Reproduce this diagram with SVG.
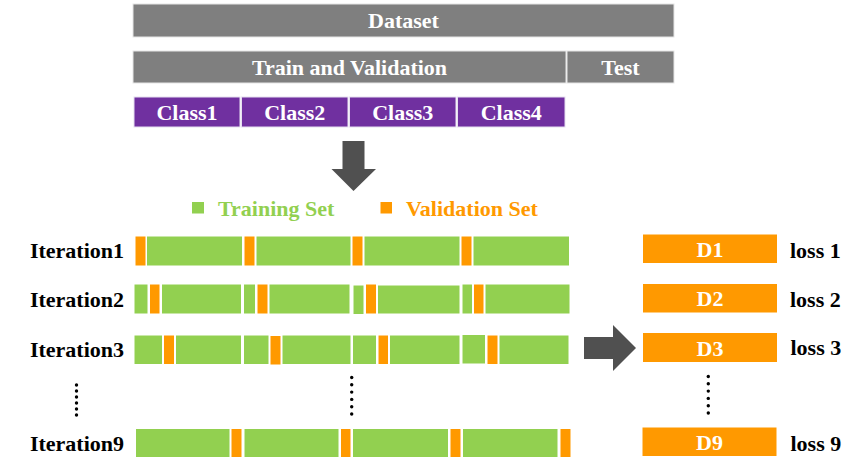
<svg xmlns="http://www.w3.org/2000/svg" width="856" height="475" viewBox="0 0 856 475">
<style>
text{font-family:"Liberation Serif","Times New Roman",serif;font-weight:bold;font-size:22px}
.w{fill:#fff;text-anchor:middle}
.k{fill:#000}
.gray{fill:#7f7f7f;stroke:#e6e6e6;stroke-width:1}
.pur{fill:#7030a0;stroke:#e6dff0;stroke-width:1}
.g{fill:#92d050;stroke:#fff;stroke-width:1}
.o{fill:#ff9900;stroke:#fff;stroke-width:1}
.d{fill:#ff9900}
.arr{fill:#505050}
.dot{fill:#000}
</style>
<rect width="856" height="475" fill="#fff"/>
<g id="dataset"><rect class="gray" x="133" y="4" width="541" height="33"/><text class="w" x="403.5" y="28">Dataset</text></g>
<g id="trainval"><rect class="gray" x="133" y="51" width="433" height="32"/><text class="w" x="349.5" y="75">Train and Validation</text></g>
<g id="test"><rect class="gray" x="567" y="51" width="107" height="32"/><text class="w" x="620.5" y="75">Test</text></g>
<g id="class1"><rect class="pur" x="134" y="97" width="106" height="30"/><text class="w" x="187" y="119.5">Class1</text></g>
<g id="class2"><rect class="pur" x="241.5" y="97" width="106.5" height="30"/><text class="w" x="294.7" y="119.5">Class2</text></g>
<g id="class3"><rect class="pur" x="349.5" y="97" width="106.5" height="30"/><text class="w" x="402.7" y="119.5">Class3</text></g>
<g id="class4"><rect class="pur" x="457.5" y="97" width="107.5" height="30"/><text class="w" x="511.2" y="119.5">Class4</text></g>
<g id="legend">
<rect fill="#92d050" x="192" y="202" width="12" height="11.5"/><text fill="#92d050" x="218" y="216">Training Set</text>
<rect fill="#ff9900" x="380.5" y="202" width="11.5" height="11.5"/><text fill="#ff9900" x="406" y="216">Validation Set</text>
</g>
<g id="iteration1"><text class="k" x="124" y="257.5" text-anchor="end">Iteration1</text>
<rect class="o" x="135" y="236" width="11" height="30"/><rect class="g" x="146.5" y="236" width="96" height="30"/>
<rect class="o" x="244" y="236" width="11" height="30"/><rect class="g" x="256" y="236" width="95" height="30"/>
<rect class="o" x="352" y="236" width="11" height="30"/><rect class="g" x="364" y="236" width="96" height="30"/>
<rect class="o" x="461" y="236" width="11" height="30"/><rect class="g" x="473" y="236" width="96.5" height="30"/>
</g>
<g id="iteration2"><text class="k" x="124" y="306.5" text-anchor="end">Iteration2</text>
<rect class="g" x="134" y="284" width="14" height="30"/><rect class="o" x="149.5" y="284" width="10.5" height="30"/><rect class="g" x="161.5" y="284" width="80" height="30"/>
<rect class="g" x="243.5" y="284" width="12" height="30"/><rect class="o" x="257" y="284" width="11" height="30"/><rect class="g" x="269" y="284" width="81" height="30"/>
<rect class="g" x="353" y="285" width="11" height="29.5"/><rect class="o" x="365.5" y="284" width="11" height="30"/><rect class="g" x="377.5" y="285" width="82.5" height="29"/>
<rect class="g" x="462" y="284" width="10.5" height="30"/><rect class="o" x="473.5" y="284" width="10.5" height="30"/><rect class="g" x="485" y="284" width="85" height="30"/>
</g>
<g id="iteration3"><text class="k" x="124" y="356.5" text-anchor="end">Iteration3</text>
<rect class="g" x="134" y="335" width="28.5" height="29.5"/><rect class="o" x="163.5" y="335" width="11" height="29.5"/><rect class="g" x="175.5" y="335" width="66" height="29.5"/>
<rect class="g" x="243.5" y="335" width="25.5" height="29.5"/><rect class="o" x="270" y="335.5" width="11" height="29.5"/><rect class="g" x="282" y="335" width="69" height="29.5"/>
<rect class="g" x="352.5" y="335" width="24" height="29.5"/><rect class="o" x="378" y="335" width="10.5" height="29.5"/><rect class="g" x="389.5" y="335" width="70.5" height="29.5"/>
<rect class="g" x="462" y="334.5" width="23.5" height="29.5"/><rect class="o" x="487" y="335" width="11" height="29.5"/><rect class="g" x="499" y="335" width="70" height="29.5"/>
</g>
<g id="iteration9"><text class="k" x="124" y="450.5" text-anchor="end">Iteration9</text>
<rect class="g" x="135.5" y="428.5" width="94.5" height="29"/><rect class="o" x="231" y="428.5" width="11" height="29"/>
<rect class="g" x="244" y="428.5" width="95" height="29"/><rect class="o" x="340.5" y="428.5" width="10.5" height="29"/>
<rect class="g" x="352.5" y="428.5" width="96" height="29"/><rect class="o" x="450" y="428.5" width="11" height="29"/>
<rect class="g" x="462.5" y="428.5" width="95.5" height="29"/><rect class="o" x="560" y="428.5" width="11" height="29"/>
</g>
<g id="ellipsis-left"><circle class="dot" cx="76.5" cy="385" r="1.7"/><circle class="dot" cx="76.5" cy="391" r="1.7"/><circle class="dot" cx="76.5" cy="397" r="1.7"/><circle class="dot" cx="76.5" cy="403" r="1.7"/><circle class="dot" cx="76.5" cy="409" r="1.7"/><circle class="dot" cx="76.5" cy="415" r="1.7"/></g>
<g id="ellipsis-mid"><circle class="dot" cx="351.7" cy="377.5" r="1.7"/><circle class="dot" cx="351.7" cy="384.8" r="1.7"/><circle class="dot" cx="351.7" cy="392.1" r="1.7"/><circle class="dot" cx="351.7" cy="399.4" r="1.7"/><circle class="dot" cx="351.7" cy="406.7" r="1.7"/><circle class="dot" cx="351.7" cy="414" r="1.7"/></g>
<g id="ellipsis-right"><circle class="dot" cx="708.3" cy="376.5" r="1.7"/><circle class="dot" cx="708.3" cy="383.8" r="1.7"/><circle class="dot" cx="708.3" cy="391.1" r="1.7"/><circle class="dot" cx="708.3" cy="398.4" r="1.7"/><circle class="dot" cx="708.3" cy="405.7" r="1.7"/><circle class="dot" cx="708.3" cy="413" r="1.7"/></g>
<g id="d1"><rect class="d" x="643" y="234.5" width="134" height="28.5"/><text class="w" x="710" y="256.5">D1</text></g>
<g id="d2"><rect class="d" x="643" y="284" width="134" height="28.5"/><text class="w" x="710" y="306">D2</text></g>
<g id="d3"><rect class="d" x="643" y="333" width="134" height="29"/><text class="w" x="710" y="355.5">D3</text></g>
<g id="d9"><rect class="d" x="642.5" y="427.5" width="134" height="28.5"/><text class="w" x="709.5" y="449.5">D9</text></g>
<g id="losses">
<text class="k" x="790" y="257.5">loss 1</text>
<text class="k" x="790" y="306.5">loss 2</text>
<text class="k" x="790.5" y="355">loss 3</text>
<text class="k" x="790.5" y="451">loss 9</text>
</g>
<g id="connectors">
<polygon class="arr" points="342.5,141 364.5,141 364.5,169 376,169 353.5,191 331.5,169 342.5,169"/>
<polygon class="arr" points="584,337 613,337 613,325 636,348 613,371 613,359 584,359"/>
</g>
</svg>
